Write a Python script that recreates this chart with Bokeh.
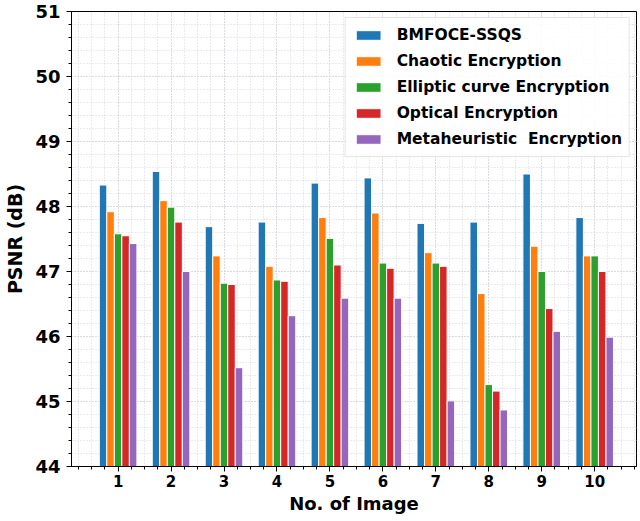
from bokeh.plotting import figure
from bokeh.models import ColumnDataSource, Range1d, FixedTicker, Legend, LegendItem
from bokeh.transform import dodge
from bokeh.embed import file_html
from bokeh.resources import INLINE

images = [1, 2, 3, 4, 5, 6, 7, 8, 9, 10]
series_names = ["BMFOCE-SSQS", "Chaotic Encryption", "Elliptic curve Encryption",
                "Optical Encryption", "Metaheuristic  Encryption"]
bmfoce = [48.33, 48.54, 47.69, 47.76, 48.36, 48.44, 47.74, 47.76, 48.50, 47.83]
chaotic = [47.92, 48.09, 47.24, 47.08, 47.83, 47.90, 47.29, 46.66, 47.39, 47.24]
elliptic = [47.58, 47.99, 46.82, 46.87, 47.51, 47.13, 47.13, 45.26, 47.00, 47.24]
optical = [47.55, 47.76, 46.80, 46.85, 47.10, 47.05, 47.08, 45.16, 46.43, 47.00]
metaheur = [47.43, 47.00, 45.52, 46.32, 46.59, 46.59, 45.01, 44.87, 46.08, 45.99]
colors = ["#1f77b4", "#ff7f0e", "#2ca02c", "#d62728", "#9467bd"]

source = ColumnDataSource(dict(x=images, s0=bmfoce, s1=chaotic, s2=elliptic, s3=optical, s4=metaheur))

p = figure(width=637, height=516, output_backend="svg", toolbar_location=None,
           x_range=Range1d(0.12, 10.79), y_range=Range1d(44, 51),
           min_border_left=71, min_border_top=11, min_border_right=1, min_border_bottom=50)

bw = 0.142
items = []
for i in range(5):
    r = p.vbar(x=dodge("x", (i - 2) * bw, range=p.x_range), top="s%d" % i, bottom=44,
               width=bw, source=source, fill_color=colors[i], line_color="white", line_width=1)
    items.append(LegendItem(label=series_names[i], renderers=[r]))

minor_x = [k * 0.25 for k in range(0, 45)]
p.xaxis.ticker = FixedTicker(ticks=images, minor_ticks=minor_x)
p.yaxis.ticker = FixedTicker(ticks=[44, 45, 46, 47, 48, 49, 50, 51],
                             minor_ticks=[44 + k * 0.2 for k in range(0, 36)])

for g in (p.xgrid, p.ygrid):
    g.grid_line_color = "#c8c8dc"
    g.grid_line_dash = "1 2"
    g.grid_line_width = 1
    g.minor_grid_line_color = "#d4d4e4"
    g.minor_grid_line_dash = "1 2"

for ax in (p.xaxis, p.yaxis):
    ax.axis_line_color = "black"
    ax.major_tick_line_color = "black"
    ax.minor_tick_line_color = "black"
    ax.major_tick_out = 5
    ax.major_tick_in = 0
    ax.minor_tick_out = 3
    ax.minor_tick_in = 0
    ax.major_label_text_font = "DejaVu Sans"
    ax.major_label_text_font_style = "bold"
    ax.major_label_text_color = "black"
    ax.axis_label_text_font = "DejaVu Sans"
    ax.axis_label_text_font_style = "bold"
    ax.axis_label_text_color = "black"

p.yaxis.major_label_text_font_size = "18px"
p.xaxis.major_label_text_font_size = "15px"
p.yaxis.axis_label = "PSNR (dB)"
p.xaxis.axis_label = "No. of Image"
p.yaxis.axis_label_text_font_size = "19px"
p.xaxis.axis_label_text_font_size = "18px"
p.yaxis.major_label_standoff = 6
p.xaxis.major_label_standoff = 3
p.yaxis.axis_label_standoff = 6
p.xaxis.axis_label_standoff = 3

p.outline_line_color = "black"
p.outline_line_width = 1

legend = Legend(items=items, location="top_right")
legend.label_text_font = "DejaVu Sans"
legend.label_text_font_style = "bold"
legend.label_text_font_size = "15.5px"
legend.label_text_color = "black"
legend.glyph_width = 31
legend.glyph_height = 12
legend.label_height = 20
legend.spacing = 6
legend.padding = 7
legend.margin = 6
legend.label_standoff = 13
legend.border_line_color = "#cccccc"
legend.border_line_width = 1
legend.background_fill_alpha = 0.85
p.add_layout(legend)

open("out.html", "w").write(file_html(p, INLINE))
